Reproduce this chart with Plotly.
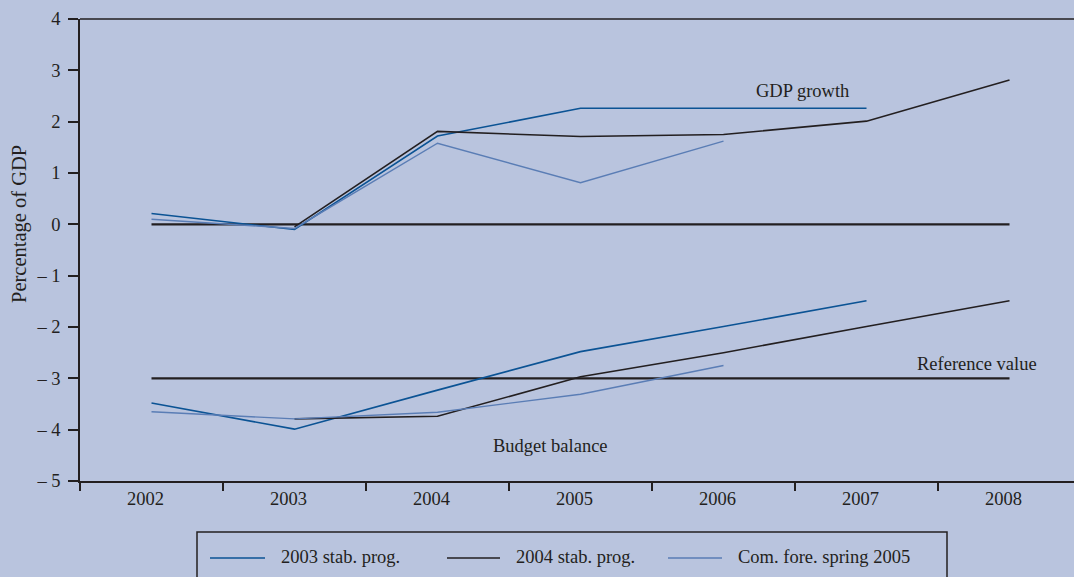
import plotly.graph_objects as go

# ---- data ----
years = ["2002", "2003", "2004", "2005", "2006", "2007", "2008"]
gdp_stab_2003 = [0.21, -0.10, 1.72, 2.26, 2.26, 2.26, None]
gdp_stab_2004 = [None, -0.05, 1.81, 1.71, 1.75, 2.01, 2.81]
gdp_com_2005 = [0.10, -0.08, 1.58, 0.81, 1.62, None, None]
bb_stab_2003 = [-3.48, -3.99, -3.23, -2.48, -1.99, -1.49, None]
bb_stab_2004 = [None, -3.79, -3.74, -2.97, -2.50, -1.99, -1.49]
bb_com_2005 = [-3.65, -3.79, -3.66, -3.31, -2.75, None, None]
zero_line = [0, 0, 0, 0, 0, 0, 0]
reference_value = [-3, -3, -3, -3, -3, -3, -3]
series_names = ["2003 stab. prog.", "2004 stab. prog.", "Com. fore. spring 2005"]
y_tick_vals = [4, 3, 2, 1, 0, -1, -2, -3, -4, -5]
y_tick_text = ["4", "3", "2", "1", "0", "\u2013 1", "\u2013 2", "\u2013 3", "\u2013 4", "\u2013 5"]

# ---- style ----
BG = "#b9c4de"
INK = "#231f20"
DARK_BLUE = "#0b5394"
LIGHT_BLUE = "#5a7db5"
FONT = "Liberation Serif"
FS = 18.5
colors = [DARK_BLUE, INK, LIGHT_BLUE]

fig = go.Figure()

# reference lines
for vals in (zero_line, reference_value):
    fig.add_trace(go.Scatter(x=years, y=vals, mode="lines",
                             line=dict(color=INK, width=2.4),
                             showlegend=False, hoverinfo="skip"))

groups = [
    (gdp_stab_2003, bb_stab_2003),
    (gdp_stab_2004, bb_stab_2004),
    (gdp_com_2005, bb_com_2005),
]
widths = [1.6, 1.6, 1.4]
for (g, b), c, w, n in zip(groups, colors, widths, series_names):
    for vals in (g, b):
        fig.add_trace(go.Scatter(x=years, y=vals, mode="lines", name=n,
                                 line=dict(color=c, width=w),
                                 connectgaps=False, showlegend=False))

# plot area geometry (px) for paper conversions
L, R, T, B = 80, 1074, 19, 481
def px(xp):
    return (xp - L) / (R - L)
def py(yp):
    return (B - yp) / (B - T)

annotations = [
    dict(x=4.55, y=2.59, xref="x", yref="y", text="GDP growth", showarrow=False),
    dict(x=5.77, y=-2.73, xref="x", yref="y", text="Reference value", showarrow=False),
    dict(x=2.79, y=-4.31, xref="x", yref="y", text="Budget balance", showarrow=False),
    dict(x=px(19), y=py(224), xref="paper", yref="paper", text="Percentage of GDP",
         textangle=-90, xanchor="center", yanchor="middle", showarrow=False,
         font=dict(size=20.5)),
]

shapes = [
    # top frame line
    dict(type="line", xref="paper", yref="paper", x0=0, x1=1, y0=1, y1=1,
         line=dict(color=INK, width=1.5)),
    # legend box
    dict(type="rect", xref="paper", yref="paper", x0=px(197), x1=px(947),
         y0=py(532), y1=py(610), line=dict(color=INK, width=1.5), fillcolor="rgba(0,0,0,0)"),
]

legend_items = [(210, 265, 279), (447, 500, 514), (668, 722, 736)]
for (x0, x1, xt), c, n in zip(legend_items, colors, series_names):
    shapes.append(dict(type="line", xref="paper", yref="paper", x0=px(x0), x1=px(x1),
                       y0=py(558), y1=py(558), line=dict(color=c, width=1.6)))
    annotations.append(dict(x=px(xt), y=py(557), xref="paper", yref="paper", text=n,
                            xanchor="left", yanchor="middle", showarrow=False))

fig.update_layout(
    width=1074, height=577,
    margin=dict(l=L, r=0, t=T, b=577 - B, pad=0),
    paper_bgcolor=BG, plot_bgcolor=BG,
    font=dict(family=FONT, size=FS, color=INK),
    showlegend=False,
    annotations=annotations,
    shapes=shapes,
    xaxis=dict(type="category", range=[-0.5, 6.451], showgrid=False, zeroline=False,
               showline=True, linecolor=INK, linewidth=1.5,
               ticks="outside", tickson="boundaries", ticklen=8, tickwidth=1.5,
               tickcolor=INK, ticklabelshift=-6,
               tickfont=dict(family=FONT, size=FS, color=INK)),
    yaxis=dict(range=[-5, 4], showgrid=False, zeroline=False,
               showline=True, linecolor=INK, linewidth=1.5,
               tickvals=y_tick_vals, ticktext=y_tick_text,
               ticks="outside", ticklen=10, tickwidth=1.5, tickcolor=INK,
               ticklabelstandoff=4,
               tickfont=dict(family=FONT, size=FS, color=INK)),
)

fig.write_html("out.html")
